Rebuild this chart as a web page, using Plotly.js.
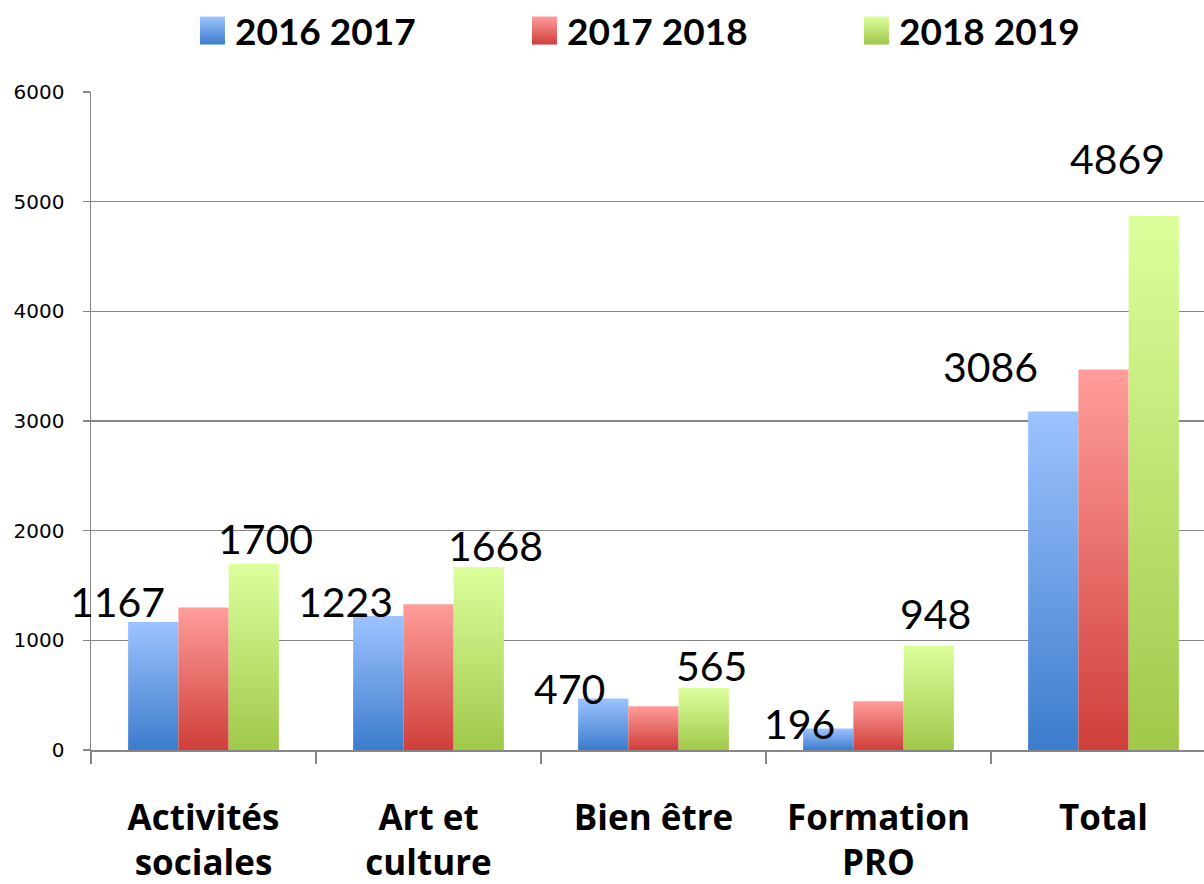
<!DOCTYPE html>
<html>
<head>
<meta charset="utf-8">
<script src="https://cdn.plot.ly/plotly-3.0.1.min.js"></script>
<style>
html,body{margin:0;padding:0;background:#fff;overflow:hidden;}
#chart{width:1230px;height:884px;}
</style>
</head>
<body>
<div id="chart"></div>
<script>
// ---- data ----
const categories = ["Activités<br>sociales", "Art et<br>culture", "Bien être", "Formation<br>PRO", "Total"];
const seriesNames = ["2016 2017", "2017 2018", "2018 2019"];
const values2016 = [1167, 1223, 470, 196, 3086];
const values2017 = [1300, 1330, 400, 445, 3470];
const values2018 = [1700, 1668, 565, 948, 4869];
const yTicks = [0, 1000, 2000, 3000, 4000, 5000, 6000];

// ---- style / layout tuning (not data) ----
const colors = ["#6B9BE0", "#E86A66", "#C3E27A"];
const gradStops = [["#9DC3FF", "#3C7CCC"], ["#FF9D9A", "#CF3E3A"], ["#DCFF9C", "#A0C84A"]];
const FONT = "Lato, 'Liberation Sans', sans-serif";
const labelFont = {family: FONT, size: 41, color: "#000"};
// pixel shifts for the hand-placed data labels (x relative to the group centre, y above the value)
const shift2016 = [[-86, -6], [-83, -12], [-84, -17], [-79, -21], [-113, 19]];
const shift2018 = [[62, -1], [67, -5], [58, -4], [57, 6], [14, 31]];

const traces = [values2016, values2017, values2018].map((v, i) => ({
  type: "bar",
  name: seriesNames[i],
  x: categories,
  y: v,
  marker: {color: colors[i], line: {width: 0}},
  hoverinfo: "x+y+name"
}));

const annotations = [];
categories.forEach((c, k) => {
  annotations.push({x: c, y: values2016[k], xref: "x", yref: "y", text: String(values2016[k]),
    showarrow: false, yanchor: "bottom", xanchor: "center", xshift: shift2016[k][0], yshift: shift2016[k][1], font: labelFont});
  annotations.push({x: c, y: values2018[k], xref: "x", yref: "y", text: String(values2018[k]),
    showarrow: false, yanchor: "bottom", xanchor: "center", xshift: shift2018[k][0], yshift: shift2018[k][1], font: labelFont});
});

const layout = {
  width: 1230, height: 884,
  margin: {l: 91, r: 14, t: 92, b: 134, autoexpand: false},
  paper_bgcolor: "#fff", plot_bgcolor: "#fff",
  barmode: "group",
  bargap: 0.33, bargroupgap: 0,
  font: {family: FONT, color: "#000"},
  showlegend: true,
  legend: {orientation: "h", xref: "container", x: 0.1585, xanchor: "left", yref: "container", y: 1, yanchor: "top",
    font: {family: FONT, size: 37, color: "#000", weight: "bold"},
    entrywidth: 287, entrywidthmode: "pixels", itemwidth: 30, traceorder: "normal"},
  xaxis: {
    type: "category",
    range: [-0.5, 4.5], autorange: false,
    showgrid: false,
    showline: true, linecolor: "#868686", linewidth: 1.5,
    ticks: "outside", tickson: "boundaries", ticklen: 12, tickwidth: 1.5, tickcolor: "#868686",
    tickfont: {family: "'Open Sans', Lato, sans-serif", size: 35, color: "#000", weight: "bold"},
    tickangle: 0,
    ticklabelstandoff: 36,
    automargin: false,
    fixedrange: true
  },
  yaxis: {
    range: [0, 6000], autorange: false,
    tickvals: yTicks,
    showgrid: true, gridcolor: "#868686", gridwidth: 1.5,
    showline: true, linecolor: "#868686", linewidth: 1.5,
    ticks: "outside", ticklen: 7, tickwidth: 1.5, tickcolor: "#868686",
    tickfont: {family: "'DejaVu Sans', sans-serif", size: 20, color: "#000"},
    ticklabelstandoff: 14,
    zeroline: false,
    automargin: false,
    fixedrange: true
  },
  annotations: annotations
};

Plotly.newPlot("chart", traces, layout, {displayModeBar: false, staticPlot: true}).then(gd => {
  const svg = gd.querySelector("svg.main-svg");
  const NS = "http://www.w3.org/2000/svg";
  let defs = svg.querySelector("defs");
  if (!defs) { defs = document.createElementNS(NS, "defs"); svg.insertBefore(defs, svg.firstChild); }
  gradStops.forEach((s, i) => {
    const g = document.createElementNS(NS, "linearGradient");
    g.setAttribute("id", "barGrad" + i);
    g.setAttribute("x1", "0"); g.setAttribute("y1", "0"); g.setAttribute("x2", "0"); g.setAttribute("y2", "1");
    [[0, s[0]], [1, s[1]]].forEach(([o, c]) => {
      const st = document.createElementNS(NS, "stop");
      st.setAttribute("offset", o); st.setAttribute("stop-color", c);
      g.appendChild(st);
    });
    defs.appendChild(g);
  });
  gd.querySelectorAll(".barlayer .trace").forEach((t, i) => {
    t.querySelectorAll("path").forEach(p => { p.style.fill = "url(#barGrad" + i + ")"; });
  });
  gd.querySelectorAll(".legend .traces").forEach((t, i) => {
    t.querySelectorAll(".legendpoints path").forEach(p => {
      p.setAttribute("d", "M-15,-14H10V14H-15Z");
      p.style.fill = "url(#barGrad" + i + ")";
      p.style.stroke = "none";
      p.style.strokeWidth = "0";
    });
  });
});
</script>
</body>
</html>
